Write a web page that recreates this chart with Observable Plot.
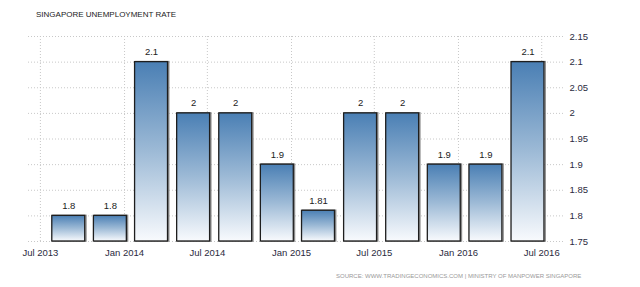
<!DOCTYPE html>
<html>
<head>
<meta charset="utf-8">
<script src="https://cdn.jsdelivr.net/npm/d3@7"></script>
<script src="https://cdn.jsdelivr.net/npm/@observablehq/plot@0.6"></script>
<style>
  html, body { margin: 0; padding: 0; background: #fff; }
  body { width: 640px; height: 287px; position: relative; overflow: hidden; font-family: "Liberation Sans", Arial, sans-serif; }
  #title { position: absolute; left: 36px; top: 11px; font-size: 8px; line-height: 8px; color: #222; white-space: nowrap; }
  #chart { position: absolute; left: 0; top: 28px; }
  #source { position: absolute; left: 336px; top: 273px; font-size: 6px; line-height: 6px; color: #999; white-space: nowrap; }
</style>
</head>
<body>
<div id="title">SINGAPORE UNEMPLOYMENT RATE</div>
<div id="chart"></div>
<div id="source">SOURCE: WWW.TRADINGECONOMICS.COM | MINISTRY OF MANPOWER SINGAPORE</div>
<script>
// ---- data ----
const dates = ["2013-09-01","2013-12-01","2014-03-01","2014-06-01","2014-09-01","2014-12-01",
               "2015-03-01","2015-06-01","2015-09-01","2015-12-01","2016-03-01","2016-06-01"];
const values = [1.8, 1.8, 2.1, 2, 2, 1.9, 1.81, 2, 2, 1.9, 1.9, 2.1];
const valueLabels = ["1.8","1.8","2.1","2","2","1.9","1.81","2","2","1.9","1.9","2.1"];
const xTicks = ["2013-07-01","2014-01-01","2014-07-01","2015-01-01","2015-07-01","2016-01-01","2016-07-01"];
const xTickLabels = ["Jul 2013","Jan 2014","Jul 2014","Jan 2015","Jul 2015","Jan 2016","Jul 2016"];
const yTicks = [1.75, 1.8, 1.85, 1.9, 1.95, 2, 2.05, 2.1, 2.15];
const yTickLabels = ["1.75","1.8","1.85","1.9","1.95","2","2.05","2.1","2.15"];

// ---- build table ----
const parse = d3.utcParse("%Y-%m-%d");
const halfBarDays = 36;
const yMin = yTicks[0], yMax = yTicks[yTicks.length - 1];
const table = dates.map((d, i) => {
  const t = parse(d);
  return {date: t, x1: d3.utcDay.offset(t, -halfBarDays), x2: d3.utcDay.offset(t, halfBarDays),
          value: values[i], label: valueLabels[i]};
});
const xTickDates = xTicks.map(parse);
const xLabelMap = new Map(xTickDates.map((d, i) => [+d, xTickLabels[i]]));
const yLabelMap = new Map(yTicks.map((v, i) => [v, yTickLabels[i]]));

const plot = Plot.plot({
  width: 640,
  height: 240,
  marginTop: 8,
  marginBottom: 27,
  marginLeft: 28,
  marginRight: 75,
  style: {fontFamily: "Liberation Sans, Arial, sans-serif", fontSize: "9.5px", color: "#333", background: "transparent"},
  x: {type: "utc", domain: [parse("2013-06-05"), parse("2016-08-22")], label: null},
  y: {domain: [yMin, yMax], label: null},
  marks: [
    Plot.ruleY(yTicks, {stroke: "#c8c8c8", strokeDasharray: "1,2", strokeWidth: 1}),
    Plot.ruleX(xTickDates, {stroke: "#c8c8c8", strokeDasharray: "1,2", strokeWidth: 1}),
    Plot.rectY(table, {x1: "x1", x2: "x2", y1: yMin, y2: "value", fill: "none", stroke: "#8a8a8a", strokeWidth: 1.5, dx: 1.2}),
    Plot.rectY(table, {x1: "x1", x2: "x2", y1: yMin, y2: "value", fill: "url(#barGrad)", stroke: "#1e1e1e", strokeWidth: 1.3}),
    Plot.text(table, {x: "date", y: "value", text: "label", dy: -10, fill: "#222", fontSize: 9.5}),
    Plot.axisY({anchor: "right", ticks: yTicks, tickSize: 0, tickPadding: 4, tickFormat: v => yLabelMap.get(v), fill: "#2b2b40", label: null}),
    Plot.axisX({ticks: xTickDates, tickSize: 0, tickPadding: 8, tickFormat: d => xLabelMap.get(+d), fill: "#2b2b40", label: null})
  ]
});

// gradient definition for the bars
const svg = d3.select(plot);
const defs = svg.insert("defs", ":first-child");
const grad = defs.append("linearGradient").attr("id", "barGrad")
  .attr("x1", 0).attr("y1", 0).attr("x2", 0).attr("y2", 1);
grad.append("stop").attr("offset", "0%").attr("stop-color", "#4a7fb4");
grad.append("stop").attr("offset", "50%").attr("stop-color", "#9dbad6");
grad.append("stop").attr("offset", "100%").attr("stop-color", "#f8fafd");

document.getElementById("chart").appendChild(plot);
</script>
</body>
</html>
